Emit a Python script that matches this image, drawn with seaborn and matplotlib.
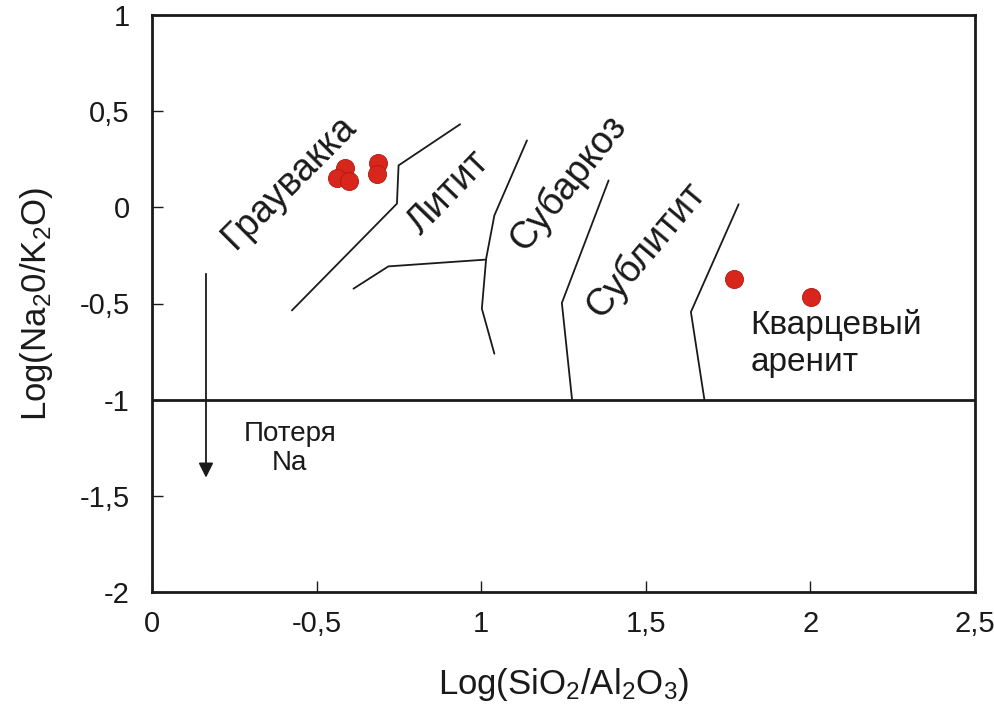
import numpy as np
import pandas as pd
import matplotlib
matplotlib.use("Agg")
import matplotlib.pyplot as plt
import seaborn as sns

# sample points
sample_x = [0.585, 0.563, 0.599, 0.686, 0.683, 1.769, 2.002]
sample_y = [0.204, 0.154, 0.137, 0.230, 0.172, -0.374, -0.466]

# field boundaries
greywacke_x = [0.425, 0.744, 0.749, 0.936]
greywacke_y = [-0.536, 0.019, 0.218, 0.432]
litite_x = [0.612, 0.718, 1.012]
litite_y = [-0.423, -0.307, -0.272]
subarkose_x = [1.139, 1.040, 1.015, 1.002, 1.040]
subarkose_y = [0.348, -0.042, -0.267, -0.527, -0.761]
sublitite_x = [1.387, 1.245, 1.276]
sublitite_y = [0.140, -0.497, -1.0]
quartz_x = [1.782, 1.637, 1.678]
quartz_y = [0.016, -0.544, -1.0]
na_loss_y = -1.0

# arrow "loss of Na"
arrow_x = 0.164
arrow_y = [-0.331, -1.42]

xticks = [0, 0.5, 1, 1.5, 2, 2.5]
xtick_labels = ["0", "-0,5", "1", "1,5", "2", "2,5"]
yticks = [1, 0.5, 0, -0.5, -1, -1.5, -2]
ytick_labels = ["1", "0,5", "0", "-0,5", "-1", "-1,5", "-2"]

sns.set_theme(style="ticks")
plt.rcParams['font.family'] = ['Liberation Sans', 'DejaVu Sans']
plt.rcParams['mathtext.fontset'] = 'custom'
plt.rcParams['mathtext.rm'] = 'Liberation Sans'
plt.rcParams['mathtext.it'] = 'Liberation Sans'

fig = plt.figure(figsize=(9.94, 7.11), dpi=100)
ax = fig.add_axes([152 / 994, 1 - 592 / 711, (975 - 152) / 994, (592 - 15) / 711])

boundaries = [(greywacke_x, greywacke_y), (litite_x, litite_y), (subarkose_x, subarkose_y),
              (sublitite_x, sublitite_y), (quartz_x, quartz_y)]
for bx, by in boundaries:
    sns.lineplot(x=bx, y=by, sort=False, estimator=None, color='#1a1a1a', lw=1.3, ax=ax)

ax.axhline(na_loss_y, color='#1a1a1a', lw=2.0)

ax.annotate('', xy=(arrow_x, arrow_y[1]), xytext=(arrow_x, arrow_y[0]),
            arrowprops=dict(arrowstyle='-|>', color='#1a1a1a', lw=1.3, mutation_scale=22))

sns.scatterplot(x=sample_x, y=sample_y, s=170, color='#d9261c', edgecolor='#b01a12',
                linewidth=0.6, ax=ax, zorder=5)

txt = dict(color='#1a1a1a', ha='center', va='center', rotation_mode='anchor')
ax.text(0.419, 0.130, 'Граувакка', fontsize=27, rotation=45, **txt)
ax.text(0.900, 0.078, 'Литит', fontsize=27, rotation=46, **txt)
ax.text(1.264, 0.125, 'Субаркоз', fontsize=27, rotation=51, **txt)
ax.text(1.499, -0.224, 'Сублитит', fontsize=27, rotation=50, **txt)
ax.text(1.818, -0.707, 'Кварцевый\nаренит', fontsize=24, color='#1a1a1a',
        ha='left', va='center', linespacing=1.25)
ax.text(0.419, -1.253, 'Потеря\nNa', fontsize=20, color='#1a1a1a',
        ha='center', va='center', linespacing=1.15)

ax.set_xlim(0, 2.5)
ax.set_ylim(-2, 1)
ax.set_xticks(xticks)
ax.set_xticklabels(xtick_labels)
ax.set_yticks(yticks)
ax.set_yticklabels(ytick_labels)
ax.tick_params(direction='in', length=8, width=1.0, labelsize=21, colors='#1a1a1a')
ax.tick_params(axis='x', pad=13)
ax.tick_params(axis='y', pad=16)
for s in ax.spines.values():
    s.set_linewidth(2.0)
    s.set_color('#1a1a1a')

ax.set_xlabel(r'Log(SiO$_\mathregular{2}$/Al$_\mathregular{2}$O$_\mathregular{3}$)', fontsize=25,
              color='#1a1a1a', labelpad=20)
ax.set_ylabel(r'Log(Na$_\mathregular{2}$0/K$_\mathregular{2}$O)', fontsize=25,
              color='#1a1a1a', labelpad=18)

fig.savefig('out.png', dpi=100, facecolor='white')
